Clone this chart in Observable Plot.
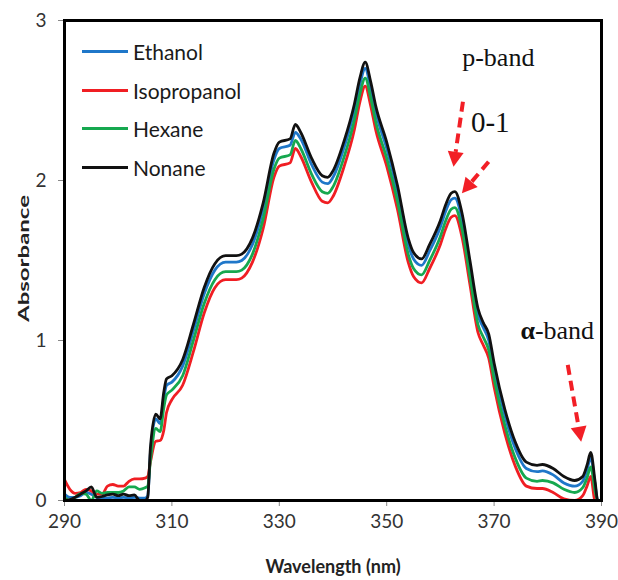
<!DOCTYPE html>
<html><head><meta charset="utf-8">
<script src="https://cdn.jsdelivr.net/npm/d3@7"></script>
<script src="https://cdn.jsdelivr.net/npm/@observablehq/plot@0.6"></script>
<style>
body{margin:0;background:#fff;}
#wrap{position:relative;width:618px;height:580px;}
.lg{position:absolute;display:flex;align-items:center;font-family:Lato,sans-serif;font-size:21px;color:#1a1a1a;height:38px;}
.lg .sw{width:46px;height:3px;margin-right:5px;}
</style></head><body><div id="wrap"></div>
<script>
const wavelength = [290,291,292,293,294,295,296,297,298,299,300,301,302,303,304,305,305.5,306,307,307.8,308.5,309,310,312,314,316,318,320,322,323,325,327,329,330,332,333,334,336,338,339,340,342,344,345,346,347,348,350,352,354,355,356.5,358,360,361,362,362.7,364,365.5,367,368,369,370,372,374,376,378,379,381,383,385,386.5,387.3,388,388.8,389.3,390];
const ethanol = [0.04,0.02,0.02,0.03,0.05,0.04,0.02,0.015,0.015,0.02,0.015,0.02,0.015,0.02,0.015,0.015,
  0.03,0.3,0.51,0.48,0.64,0.72,0.74,
  0.84,1.06,1.29,1.44,1.49,1.49,1.5,1.6,1.82,2.13,2.2,2.22,2.3,2.26,2.1,1.99,1.98,2.02,2.2,2.44,2.6,2.7,2.58,2.42,2.2,
  1.93,1.6,1.51,1.47,1.56,1.71,1.81,1.88,1.89,1.76,1.46,1.16,1.08,1.0,0.82,
  0.53,0.32,0.2,0.18,0.185,0.16,0.11,0.09,0.12,0.19,0.27,0.1,0.0,0.0];
const isopropanol = [0.13,0.07,0.045,0.05,0.07,0.06,0.04,0.04,0.09,0.1,0.09,0.09,0.12,0.135,0.135,0.14,
  0.15,0.24,0.37,0.375,0.44,0.55,0.63,
  0.72,0.93,1.17,1.33,1.38,1.38,1.39,1.49,1.7,2.02,2.09,2.11,2.2,2.15,1.99,1.87,1.86,1.9,2.08,2.32,2.49,2.59,2.47,2.31,2.09,
  1.82,1.49,1.4,1.36,1.45,1.6,1.7,1.77,1.78,1.65,1.35,1.05,0.97,0.89,0.71,
  0.42,0.21,0.09,0.075,0.075,0.05,0.01,0.0,0.03,0.09,0.15,0.0,0.0,0.0];
const hexane = [0.02,0.0,0.02,0.045,0.04,0.0,0.06,0.045,0.05,0.05,0.05,0.06,0.085,0.085,0.07,0.08,
  0.09,0.25,0.45,0.43,0.58,0.66,0.69,
  0.78,1.0,1.23,1.38,1.43,1.43,1.44,1.54,1.76,2.07,2.14,2.16,2.25,2.2,2.04,1.93,1.92,1.96,2.14,2.38,2.54,2.64,2.52,2.36,2.14,
  1.87,1.54,1.45,1.41,1.5,1.65,1.75,1.82,1.83,1.7,1.4,1.1,1.02,0.94,0.76,
  0.47,0.26,0.14,0.12,0.125,0.11,0.07,0.05,0.08,0.14,0.21,0.06,0.0,0.0];
const nonane = [0.0,0.005,0.02,0.04,0.06,0.085,0.02,0.025,0.035,0.04,0.03,0.04,0.03,0.035,0.0,0.0,
  0.02,0.33,0.54,0.51,0.68,0.76,0.78,
  0.88,1.1,1.33,1.48,1.53,1.53,1.54,1.64,1.86,2.17,2.24,2.26,2.35,2.3,2.14,2.03,2.02,2.06,2.24,2.48,2.64,2.74,2.62,2.46,2.24,
  1.97,1.64,1.55,1.51,1.6,1.75,1.85,1.92,1.93,1.8,1.5,1.2,1.11,1.04,0.86,
  0.57,0.36,0.24,0.22,0.225,0.2,0.15,0.125,0.15,0.22,0.3,0.12,0.0,0.0];

const solvents = ["Ethanol","Isopropanol","Hexane","Nonane"];
const seriesValues = [ethanol, isopropanol, hexane, nonane];
const colors = ["#1f77c9","#f01e23","#16a84f","#111111"];
const xTicks = [290,310,330,350,370,390];
const yTicks = [0,1,2,3];
const xLabel = "Wavelength (nm)";
const yLabel = "Absorbance";
const notes = [
  {wl:370.78, abs:2.77, text:"p-band"},
  {wl:369.29, abs:2.36, text:"0-1"}
];
const alphaNote = {wl:377.6, abs:1.06, bold:"α", rest:"-band"};
const arrows = [
  {x1:364.29, y1:2.489, x2:362.54, y2:2.083},
  {x1:369.07, y1:2.114, x2:364.10, y2:1.917},
  {x1:383.81, y1:0.844, x2:386.31, y2:0.364}
];

const rows = [];
solvents.forEach((s, i) => wavelength.forEach((w, j) => rows.push({wl: w, abs: seriesValues[i][j], solvent: s})));

const plot = Plot.plot({
  width: 618, height: 580,
  marginLeft: 64, marginRight: 17, marginTop: 20, marginBottom: 80,
  style: {fontFamily: "Lato, sans-serif", fontSize: "19px", color: "#333", background: "#fff", overflow: "visible"},
  x: {domain: [290, 390]},
  y: {domain: [0, 3]},
  color: {domain: solvents, range: colors},
  marks: [
    Plot.axisX({ticks: xTicks, tickSize: 6, tickPadding: 8, tickFormat: d => String(d), label: null, stroke: "#888", fontSize: 19}),
    Plot.axisY({ticks: yTicks, tickSize: 6, tickPadding: 12, tickFormat: d => String(d), label: null, stroke: "#888", fontSize: 19}),
    Plot.line(rows, {x: "wl", y: "abs", z: "solvent", stroke: "solvent", strokeWidth: 2.8, curve: "monotone-x", clip: true}),
    Plot.frame({stroke: "#000", strokeWidth: 3}),
    Plot.text([xLabel], {frameAnchor: "bottom", textAnchor: "middle", dy: 60, lineAnchor: "top", fontWeight: "bold", fontSize: 18, fill: "#222"}),
    Plot.text([yLabel], {frameAnchor: "left", textAnchor: "middle", lineAnchor: "middle", dx: -40, dy: -2, rotate: -90, fontWeight: "bold", fontSize: 15, fill: "#222"}),
    Plot.text(notes, {x: "wl", y: "abs", text: "text", fontFamily: "Liberation Serif", fontSize: 26, fill: "#111"}),
    Plot.text([alphaNote], {x: "wl", y: "abs", text: "bold", textAnchor: "end", fontFamily: "Liberation Serif", fontWeight: "bold", fontSize: 26, fill: "#111"}),
    Plot.text([alphaNote], {x: "wl", y: "abs", text: "rest", textAnchor: "start", fontFamily: "Liberation Serif", fontSize: 26, fill: "#111"})
  ]
});
const svgSel = d3.select(plot);
svgSel.selectAll("text").filter(function(){return this.textContent === "0-1";}).attr("font-size", 29);
svgSel.selectAll("text").filter(function(){return this.textContent === yLabel;})
  .attr("textLength", 127).attr("lengthAdjust", "spacingAndGlyphs");

const wrap = document.getElementById("wrap");
wrap.appendChild(plot);

// arrows through the plot scales
const sx = plot.scale("x"), sy = plot.scale("y");
const g = svgSel.append("g");
arrows.forEach(a => {
  const X1 = sx.apply(a.x1), Y1 = sy.apply(a.y1), X2 = sx.apply(a.x2), Y2 = sy.apply(a.y2);
  const dx = X2 - X1, dy = Y2 - Y1, L = Math.hypot(dx, dy), ux = dx / L, uy = dy / L;
  const hl = 15, hw = 8;
  const bx = X2 - ux * hl, by = Y2 - uy * hl;
  g.append("line").attr("x1", X1).attr("y1", Y1).attr("x2", bx).attr("y2", by)
    .attr("stroke", "#f21f26").attr("stroke-width", 4).attr("stroke-dasharray", "10,6");
  g.append("path").attr("d", `M${X2},${Y2}L${bx - uy * hw},${by + ux * hw}L${bx + uy * hw},${by - ux * hw}Z`).attr("fill", "#f21f26");
});

// legend
solvents.forEach((s, i) => {
  const row = document.createElement("div");
  row.className = "lg";
  row.style.left = "82px";
  row.style.top = (32.7 + i * 38.5) + "px";
  const sw = document.createElement("span"); sw.className = "sw"; sw.style.background = colors[i];
  const tx = document.createElement("span"); tx.textContent = s;
  row.appendChild(sw); row.appendChild(tx);
  wrap.appendChild(row);
});
</script></body></html>
